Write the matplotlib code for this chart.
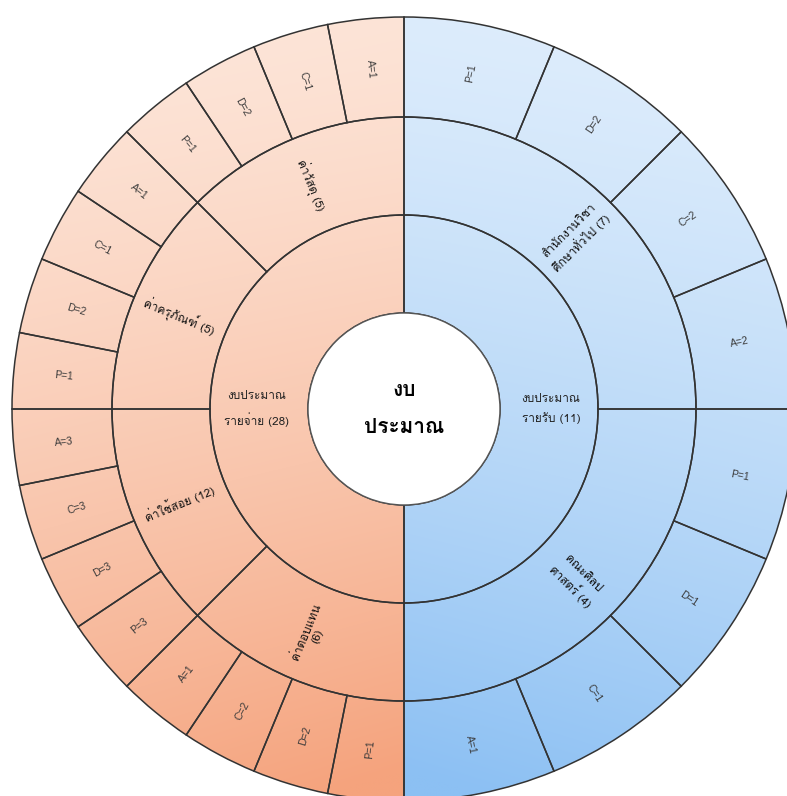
import numpy as np
import matplotlib
matplotlib.use('Agg')
import matplotlib.pyplot as plt
from matplotlib import font_manager
from matplotlib.ft2font import FT2Font
from matplotlib.patches import Wedge

# data of the sunburst
root_label = 'งบ\nประมาณ'
half_names = ['งบประมาณ\nรายจ่าย', 'งบประมาณ\nรายรับ']
expense_groups = ['ค่าวัสดุ', 'ค่าครุภัณฑ์', 'ค่าใช้สอย', 'ค่าตอบแทน\n']
income_groups = ['สำนักงานวิชา\nศึกษาทั่วไป', 'คณะศิลป\nศาสตร์']
phases = ['P', 'D', 'C', 'A']
# counts per group in P, D, C, A order
expense_counts = [[1, 2, 1, 1], [1, 2, 1, 1], [3, 3, 3, 3], [1, 2, 2, 1]]
income_counts = [[1, 2, 2, 2], [1, 1, 1, 1]]


def find_thai_font():
    prefer = ['Loma', 'Garuda', 'Tlwg Typo', 'Waree', 'Noto Sans Thai', 'Noto Sans Thai UI',
              'Norasi', 'Kinnari', 'Sawasdee', 'Umpush', 'Laksaman']
    found = []
    for f in font_manager.fontManager.ttflist:
        try:
            if ord('ก') in FT2Font(f.fname).get_charmap():
                found.append(f.name)
        except Exception:
            pass
    for p in prefer:
        if p in found:
            return p
    return found[0] if found else 'DejaVu Sans'


thai = find_thai_font()
plt.rcParams['font.family'] = [thai, 'DejaVu Sans']

W, H = 787, 796
cx, cy = 404, 387
R0, R1, R2, R3 = 96, 194, 292, 392
edge = '#333333'

fig = plt.figure(figsize=(W / 100, H / 100), dpi=100)
ax = fig.add_axes([0, 0, 1, 1])

# rings go counter-clockwise from the bottom: income (bottom->top), then expense (top->bottom)
inner_labels = [f"{half_names[1]} ({sum(map(sum, income_counts))})",
                f"{half_names[0]} ({sum(map(sum, expense_counts))})"]
inner_sizes = [0.5, 0.5]

mid_labels, mid_sizes, out_labels, out_sizes = [], [], [], []
for names, counts, rev in [(income_groups, income_counts, True), (expense_groups, expense_counts, False)]:
    order = list(range(len(names)))[::-1] if rev else list(range(len(names)))
    for g in order:
        name = names[g]
        tot = sum(counts[g])
        mid_labels.append(f"{name}({tot})" if name.endswith('\n') else f"{name} ({tot})")
        gs = 0.5 / len(names)
        mid_sizes.append(gs)
        for k in range(len(phases))[::-1]:
            out_labels.append(f"{phases[k]}={counts[g][k]}")
            out_sizes.append(gs / len(phases))

wp = dict(edgecolor=edge, linewidth=1.1, facecolor='none')
w_in, _ = ax.pie(inner_sizes, radius=R1, center=(cx, cy), startangle=-90, counterclock=True,
                 wedgeprops=dict(width=R1 - R0, **wp), normalize=True)
w_mid, _ = ax.pie(mid_sizes, radius=R2, center=(cx, cy), startangle=-90, counterclock=True,
                  wedgeprops=dict(width=R2 - R1, **wp), normalize=True)
w_out, _ = ax.pie(out_sizes, radius=R3, center=(cx, cy), startangle=-90, counterclock=True,
                  wedgeprops=dict(width=R3 - R2, **wp), normalize=True)
for w in list(w_in) + list(w_mid) + list(w_out):
    w.set_zorder(3)

# gradient fills, one per half
grads = [((224, 238, 252), (140, 192, 243)),   # income (right)
         ((253, 231, 219), (245, 163, 125))]   # expense (left)
for w, (top, bot) in zip(w_in, grads):
    x0 = cx if w.theta1 < 90 or w.theta1 > 270 else cx - R3
    ys = np.linspace(cy + R3, cy - R3, 400)
    xs = np.linspace(x0, x0 + R3, 200)
    X, Y = np.meshgrid(xs, ys)
    t = (cy + R3 - Y) / (2 * R3)
    d = np.abs(X - cx) / R3
    t = np.clip(t ** 1.3 * (1.0 - 0.15 * d) + 0.05 * (1 - d), 0, 1)
    top_a, bot_a = np.array(top) / 255, np.array(bot) / 255
    img = top_a[None, None, :] + (bot_a - top_a)[None, None, :] * t[..., None]
    im = ax.imshow(img, extent=(x0, x0 + R3, cy - R3, cy + R3), origin='upper',
                   interpolation='bilinear', zorder=1)
    clip = Wedge((cx, cy), R3, w.theta1, w.theta2, width=R3 - R0, transform=ax.transData)
    im.set_clip_path(clip)

# centre disc
disc, _ = ax.pie([1], radius=R0, center=(cx, cy), colors=['white'],
                 wedgeprops=dict(edgecolor='#555555', linewidth=1.0))
disc[0].set_zorder(3)


def place(w, r, text, size, color, radial=True, family=None, weight='normal', ls=1.3):
    ang = (w.theta1 + w.theta2) / 2
    a = np.deg2rad(ang)
    x, y = cx + r * np.cos(a), cy + r * np.sin(a)
    rot = 0
    if radial:
        ang_n = ang % 360
        rot = ang_n - 180 if 90 < ang_n < 270 else ang_n
    kw = {}
    if family:
        kw['family'] = family
    ax.text(x, y, text, rotation=rot, rotation_mode='anchor', ha='center', va='center',
            fontsize=size, color=color, fontweight=weight, linespacing=ls, zorder=5, **kw)


for w, lab in zip(w_in, inner_labels):
    place(w, (R0 + R1) / 2 + 2, lab, 8.5, '#222222', radial=False, ls=1.9)
for w, lab in zip(w_mid, mid_labels):
    place(w, (R1 + R2) / 2, lab, 8.5, '#111111', ls=1.25)
for w, lab in zip(w_out, out_labels):
    place(w, (R2 + R3) / 2, lab, 7.5, '#3a3a3a', family=['Liberation Sans', 'DejaVu Sans'])

ax.text(cx, cy, root_label, ha='center', va='center', fontsize=15, fontweight='bold',
        color='black', linespacing=2.2, zorder=5)

ax.set_xlim(0, W)
ax.set_ylim(0, H)
ax.set_aspect('equal')
ax.axis('off')
fig.savefig('out.png', dpi=100)
